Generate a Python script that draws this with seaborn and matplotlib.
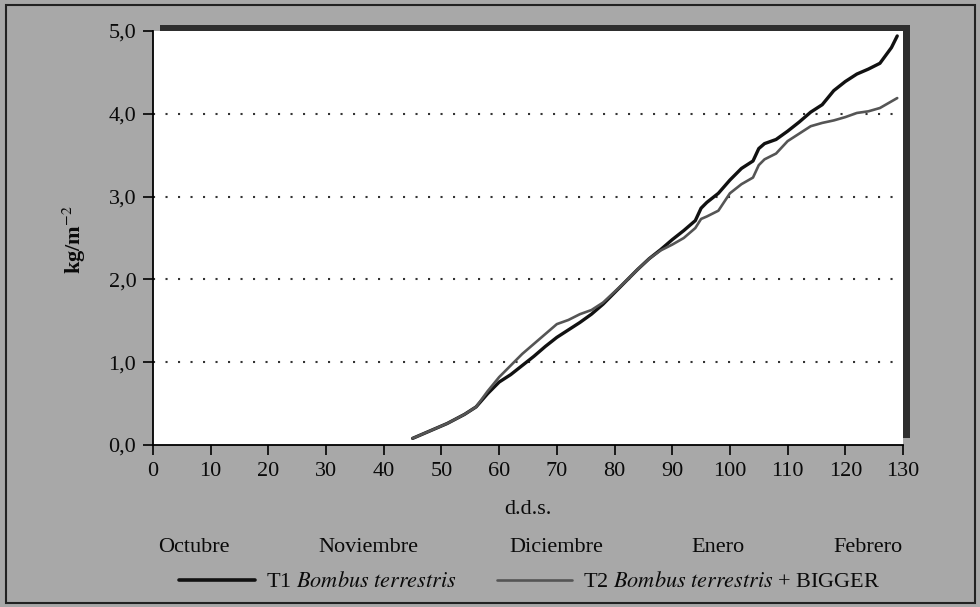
import matplotlib
matplotlib.use("Agg")
import matplotlib.pyplot as plt
from matplotlib.patches import Rectangle
from matplotlib.lines import Line2D
import seaborn as sns
import pandas as pd

# ---- data ----
days = [45, 48, 51, 54, 56, 58, 60, 62, 64, 66, 68, 70, 72, 74, 76, 78, 80, 82, 84,
        86, 88, 90, 92, 94, 95, 96, 98, 100, 102, 104, 105, 106, 108, 110, 112, 114,
        116, 118, 120, 122, 124, 126, 128, 129]
t1 = [0.08, 0.17, 0.26, 0.37, 0.46, 0.62, 0.76, 0.85, 0.96, 1.07, 1.19, 1.30, 1.39,
      1.48, 1.58, 1.70, 1.84, 1.98, 2.12, 2.25, 2.36, 2.48, 2.59, 2.71, 2.86, 2.93,
      3.04, 3.20, 3.34, 3.43, 3.58, 3.64, 3.69, 3.79, 3.90, 4.02, 4.11, 4.28, 4.39,
      4.48, 4.54, 4.61, 4.80, 4.94]
t2 = [0.08, 0.17, 0.26, 0.37, 0.46, 0.65, 0.82, 0.96, 1.10, 1.22, 1.34, 1.46, 1.51,
      1.58, 1.63, 1.72, 1.85, 1.98, 2.12, 2.25, 2.35, 2.42, 2.50, 2.62, 2.73, 2.76,
      2.83, 3.04, 3.15, 3.23, 3.38, 3.45, 3.52, 3.67, 3.76, 3.85, 3.89, 3.92, 3.96,
      4.01, 4.03, 4.07, 4.15, 4.19]
x_ticks = list(range(0, 131, 10))
y_ticks = [0, 1, 2, 3, 4, 5]
y_tick_labels = ["0,0", "1,0", "2,0", "3,0", "4,0", "5,0"]
months = ["Octubre", "Noviembre", "Diciembre", "Enero", "Febrero"]
series_names = ["T1 $\\it{Bombus\\ terrestris}$",
                "T2 $\\it{Bombus\\ terrestris}$ + BIGGER"]

sns.set_style("ticks")
plt.rcParams["font.family"] = ["Liberation Serif", "DejaVu Serif"]
plt.rcParams["mathtext.fontset"] = "stix"

W, H = 980, 607
FS = 16
TXT = "#0a0a0a"
fig = plt.figure(figsize=(W / 100, H / 100), dpi=100)
bg = "#a8a8a8"
fig.patch.set_facecolor(bg)

def fx(px):
    return px / W

def fy(py):
    return 1 - py / H

# outer frame
fig.patches.append(Rectangle((fx(6), fy(603)), fx(975) - fx(6), fy(5) - fy(603),
                             transform=fig.transFigure, fill=False,
                             edgecolor="#222222", linewidth=1.5, zorder=0))
# shadow behind the plot area
fig.patches.append(Rectangle((fx(160), fy(438)), fx(910) - fx(160), fy(25) - fy(438),
                             transform=fig.transFigure, facecolor="#2e2e2e",
                             edgecolor="none", zorder=0))

ax = fig.add_axes([fx(153), fy(445), fx(903) - fx(153), fy(31) - fy(445)])
ax.set_zorder(2)
ax.set_facecolor("white")

df = pd.DataFrame({"dds": days * 2, "val": t1 + t2,
                   "serie": [series_names[0]] * len(days) + [series_names[1]] * len(days)})
sns.lineplot(data=df, x="dds", y="val", hue="serie",
             palette={series_names[0]: "#111111", series_names[1]: "#555555"},
             ax=ax, legend=False, estimator=None, sort=False)
for ln, lw in zip(ax.get_lines(), [2.4, 1.9]):
    ln.set_linewidth(lw)
    ln.set_zorder(3)
    ln.set_solid_joinstyle("round")

for yv in y_ticks[1:-1]:
    ax.axhline(yv, color="#333333", linestyle=(0, (1, 5)), linewidth=1.5, zorder=1)

ax.set_xlim(0, 130)
ax.set_ylim(0, 5)
ax.set_xticks(x_ticks)
ax.set_xticklabels([str(v) for v in x_ticks])
ax.set_yticks(y_ticks)
ax.set_yticklabels(y_tick_labels)
ax.tick_params(axis="both", direction="out", length=7, width=1.2, color="black",
               labelsize=FS, labelcolor=TXT, pad=5)
for s in ["top", "right"]:
    ax.spines[s].set_visible(False)
for s in ["left", "bottom"]:
    ax.spines[s].set_color("black")
    ax.spines[s].set_linewidth(1.3)

ax.set_xlabel("")
ax.set_ylabel("")
fig.text(fx(74), fy(240), "kg/m$^{-2}$", rotation=90, ha="center", va="center",
         fontsize=FS, fontweight="bold", color=TXT)
fig.text(fx(528), fy(510), "d.d.s.", ha="center", va="center", fontsize=FS,
         color=TXT)
month_x = [194, 368, 556, 718, 868]
for m, mx in zip(months, month_x):
    fig.text(fx(mx), fy(547), m, ha="center", va="center", fontsize=FS,
             color=TXT)

handles = [Line2D([0], [0], color="#111111", lw=2.6),
           Line2D([0], [0], color="#555555", lw=1.9)]
leg = fig.legend(handles, series_names, loc="center", bbox_to_anchor=(fx(530), fy(582)),
                 ncol=2, frameon=False, fontsize=FS, handlelength=3.4,
                 handletextpad=0.5, columnspacing=1.8)
for t in leg.get_texts():
    t.set_color(TXT)

fig.savefig("out.png", dpi=100, facecolor=bg)
